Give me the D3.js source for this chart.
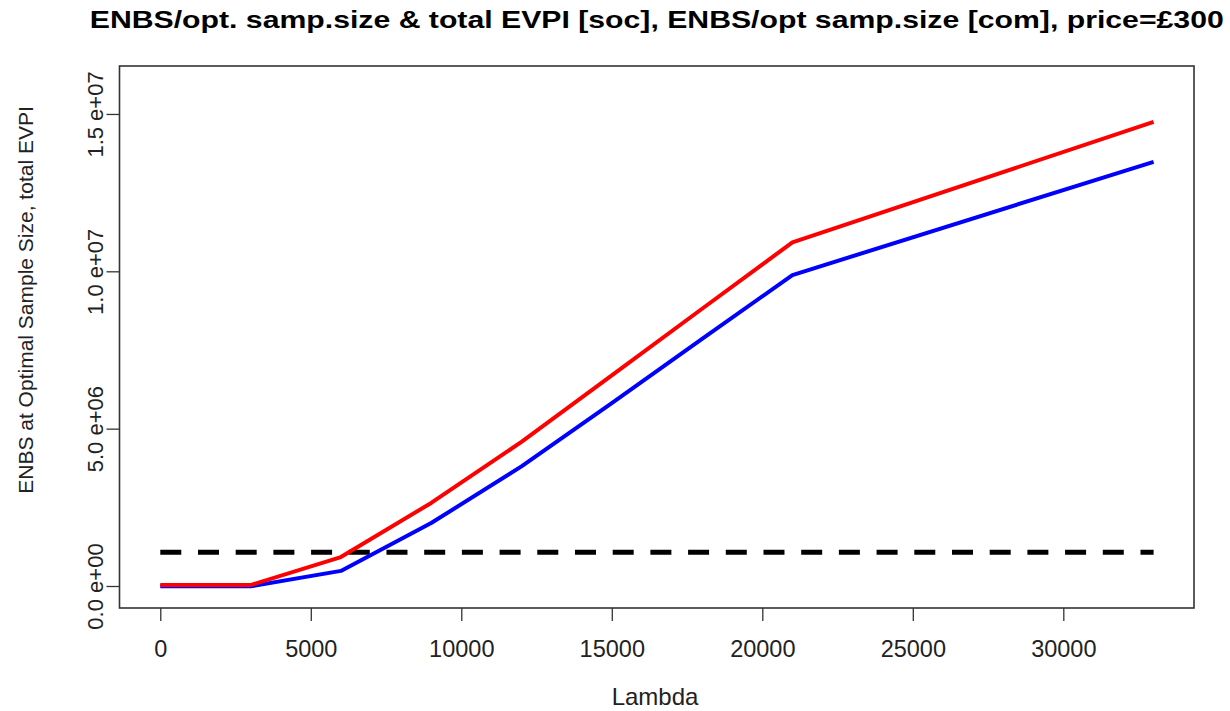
<!DOCTYPE html>
<html>
<head>
<meta charset="utf-8">
<script src="https://cdn.jsdelivr.net/npm/d3@7"></script>
<style>
  body { margin: 0; background: #fff; }
  text { font-family: "Liberation Sans", Arial, sans-serif; }
</style>
</head>
<body>
<svg class="canva" width="1230" height="711"></svg>
<script>
// lambda grid and the two ENBS curves
const lambda = [0, 3000, 6000, 9000, 12000, 15000, 18000, 21000, 33000];
const enbsSoc = [0.03e6, 0.03e6, 0.92e6, 2.64e6, 4.58e6, 6.69e6, 8.81e6, 10.92e6, 14.75e6];
const enbsCom = [-0.01e6, -0.01e6, 0.48e6, 2.0e6, 3.8e6, 5.81e6, 7.85e6, 9.88e6, 13.48e6];
// total EVPI, flat
const evpiLambda = [0, 33000];
const evpiValue = [1.07e6, 1.07e6];

const xTicks = [0, 5000, 10000, 15000, 20000, 25000, 30000];
const yTicks = [0, 5e6, 1e7, 1.5e7];
const yTickLabels = ["0.0 e+00", "5.0 e+06", "1.0 e+07", "1.5 e+07"];

const svg = d3.select(".canva");

// plot region
const pLeft = 119.5, pRight = 1194, pTop = 66, pBottom = 608;

const x = d3.scaleLinear().domain([-1355, 34342]).range([pLeft, pRight]);
const y = d3.scaleLinear().domain([-0.699e6, 16.524e6]).range([pBottom, pTop]);

// x axis
const gx = svg.append("g")
  .attr("transform", `translate(0,${pBottom})`)
  .call(d3.axisBottom(x).tickValues(xTicks).tickFormat(d3.format("d"))
    .tickSize(13).tickPadding(19));
gx.select(".domain").remove();
gx.selectAll(".tick line").attr("stroke", "#333").attr("stroke-width", 1.3);
gx.selectAll(".tick text")
  .attr("font-size", 23.5).attr("fill", "#222")
  .style("font-family", '"Liberation Sans", Arial, sans-serif');

// y axis with rotated labels
const gy = svg.append("g")
  .attr("transform", `translate(${pLeft},0)`)
  .call(d3.axisLeft(y).tickValues(yTicks).tickFormat((d, i) => yTickLabels[i])
    .tickSize(13));
gy.select(".domain").remove();
gy.selectAll(".tick line").attr("stroke", "#333").attr("stroke-width", 1.3);
gy.selectAll(".tick text")
  .attr("x", 0).attr("y", -16.2).attr("dy", 0)
  .attr("transform", "rotate(-90)")
  .attr("text-anchor", "middle")
  .attr("font-size", 22).attr("fill", "#222")
  .style("font-family", '"Liberation Sans", Arial, sans-serif');

// lines
const line = d3.line().x(d => x(d[0])).y(d => y(d[1]));

svg.append("path")
  .datum(d3.zip(evpiLambda, evpiValue))
  .attr("d", line)
  .attr("fill", "none")
  .attr("stroke", "#000")
  .attr("stroke-width", 5)
  .attr("stroke-dasharray", "21,16.7");

svg.append("path")
  .datum(d3.zip(lambda, enbsCom))
  .attr("d", line)
  .attr("fill", "none")
  .attr("stroke", "#0000ff")
  .attr("stroke-width", 4)
  .attr("stroke-linejoin", "round");

svg.append("path")
  .datum(d3.zip(lambda, enbsSoc))
  .attr("d", line)
  .attr("fill", "none")
  .attr("stroke", "#ff0000")
  .attr("stroke-width", 4)
  .attr("stroke-linejoin", "round");

// box
svg.append("rect")
  .attr("x", pLeft).attr("y", pTop)
  .attr("width", pRight - pLeft).attr("height", pBottom - pTop)
  .attr("fill", "none")
  .attr("stroke", "#333")
  .attr("stroke-width", 1.6);

// titles
svg.append("text")
  .text("ENBS/opt. samp.size & total EVPI [soc], ENBS/opt samp.size [com], price=£300")
  .attr("x", (pLeft + pRight) / 2)
  .attr("y", 27.7)
  .attr("text-anchor", "middle")
  .attr("font-size", 24)
  .attr("font-weight", "bold")
  .attr("textLength", 1134)
  .attr("lengthAdjust", "spacingAndGlyphs");

svg.append("text")
  .text("Lambda")
  .attr("x", 655)
  .attr("y", 705)
  .attr("text-anchor", "middle")
  .attr("font-size", 24)
  .attr("fill", "#222");

svg.append("text")
  .text("ENBS at Optimal Sample Size, total EVPI")
  .attr("transform", "translate(33,300) rotate(-90)")
  .attr("text-anchor", "middle")
  .attr("font-size", 21)
  .attr("fill", "#222");
</script>
</body>
</html>
